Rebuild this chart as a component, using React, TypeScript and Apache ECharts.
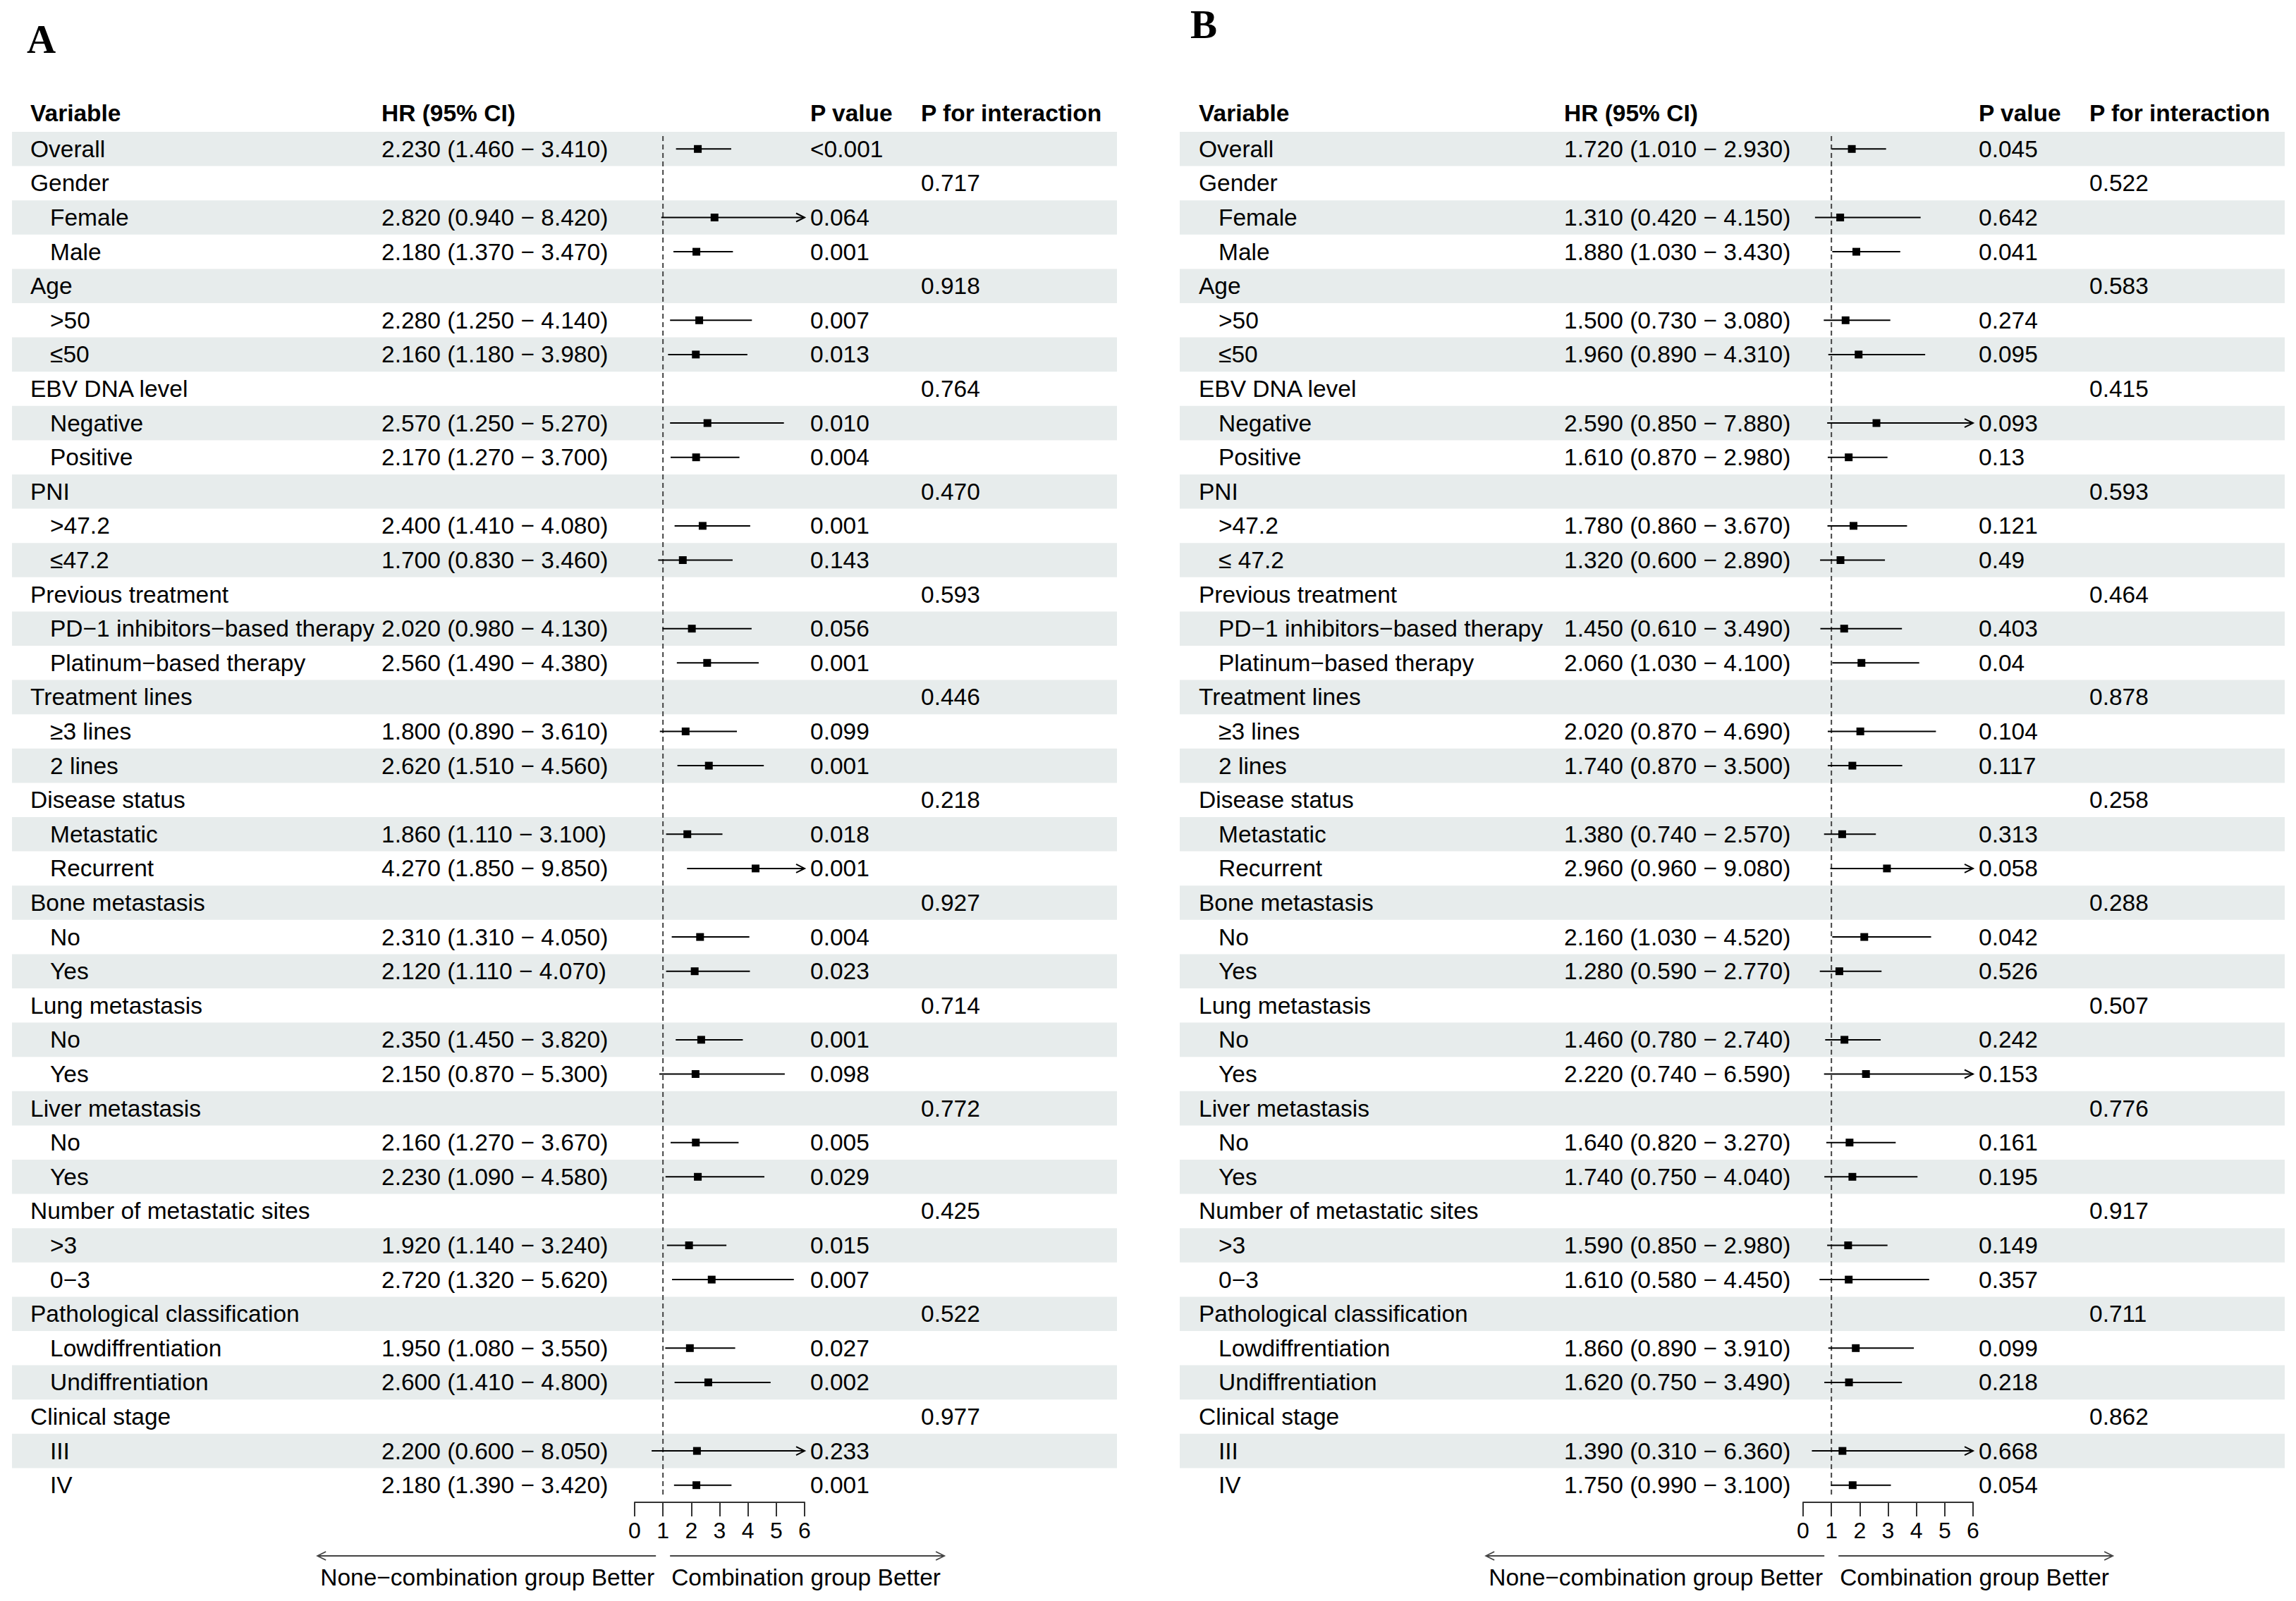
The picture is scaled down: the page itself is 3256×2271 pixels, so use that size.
import React, { useEffect, useRef } from "react";
import * as echarts from "echarts";

// ---------- data ----------
const labelsA = ["Overall","Gender","Female","Male","Age",">50","≤50","EBV DNA level","Negative","Positive","PNI",">47.2","≤47.2","Previous treatment","PD−1 inhibitors−based therapy","Platinum−based therapy","Treatment lines","≥3 lines","2 lines","Disease status","Metastatic","Recurrent","Bone metastasis","No","Yes","Lung metastasis","No","Yes","Liver metastasis","No","Yes","Number of metastatic sites",">3","0−3","Pathological classification","Lowdiffrentiation","Undiffrentiation","Clinical stage","III","IV"];
const labelsB = ["Overall","Gender","Female","Male","Age",">50","≤50","EBV DNA level","Negative","Positive","PNI",">47.2","≤ 47.2","Previous treatment","PD−1 inhibitors−based therapy","Platinum−based therapy","Treatment lines","≥3 lines","2 lines","Disease status","Metastatic","Recurrent","Bone metastasis","No","Yes","Lung metastasis","No","Yes","Liver metastasis","No","Yes","Number of metastatic sites",">3","0−3","Pathological classification","Lowdiffrentiation","Undiffrentiation","Clinical stage","III","IV"];
const groupRows = [1, 4, 7, 10, 13, 16, 19, 22, 25, 28, 31, 34, 37];

const hrA = [2.23,null,2.82,2.18,null,2.28,2.16,null,2.57,2.17,null,2.4,1.7,null,2.02,2.56,null,1.8,2.62,null,1.86,4.27,null,2.31,2.12,null,2.35,2.15,null,2.16,2.23,null,1.92,2.72,null,1.95,2.6,null,2.2,2.18];
const loA = [1.46,null,0.94,1.37,null,1.25,1.18,null,1.25,1.27,null,1.41,0.83,null,0.98,1.49,null,0.89,1.51,null,1.11,1.85,null,1.31,1.11,null,1.45,0.87,null,1.27,1.09,null,1.14,1.32,null,1.08,1.41,null,0.6,1.39];
const hiA = [3.41,null,8.42,3.47,null,4.14,3.98,null,5.27,3.7,null,4.08,3.46,null,4.13,4.38,null,3.61,4.56,null,3.1,9.85,null,4.05,4.07,null,3.82,5.3,null,3.67,4.58,null,3.24,5.62,null,3.55,4.8,null,8.05,3.42];
const pA = ["<0.001","","0.064","0.001","","0.007","0.013","","0.010","0.004","","0.001","0.143","","0.056","0.001","","0.099","0.001","","0.018","0.001","","0.004","0.023","","0.001","0.098","","0.005","0.029","","0.015","0.007","","0.027","0.002","","0.233","0.001"];
const piA = ["","0.717","","","0.918","","","0.764","","","0.470","","","0.593","","","0.446","","","0.218","","","0.927","","","0.714","","","0.772","","","0.425","","","0.522","","","0.977","",""];

const hrB = [1.72,null,1.31,1.88,null,1.5,1.96,null,2.59,1.61,null,1.78,1.32,null,1.45,2.06,null,2.02,1.74,null,1.38,2.96,null,2.16,1.28,null,1.46,2.22,null,1.64,1.74,null,1.59,1.61,null,1.86,1.62,null,1.39,1.75];
const loB = [1.01,null,0.42,1.03,null,0.73,0.89,null,0.85,0.87,null,0.86,0.6,null,0.61,1.03,null,0.87,0.87,null,0.74,0.96,null,1.03,0.59,null,0.78,0.74,null,0.82,0.75,null,0.85,0.58,null,0.89,0.75,null,0.31,0.99];
const hiB = [2.93,null,4.15,3.43,null,3.08,4.31,null,7.88,2.98,null,3.67,2.89,null,3.49,4.1,null,4.69,3.5,null,2.57,9.08,null,4.52,2.77,null,2.74,6.59,null,3.27,4.04,null,2.98,4.45,null,3.91,3.49,null,6.36,3.1];
const pB = ["0.045","","0.642","0.041","","0.274","0.095","","0.093","0.13","","0.121","0.49","","0.403","0.04","","0.104","0.117","","0.313","0.058","","0.042","0.526","","0.242","0.153","","0.161","0.195","","0.149","0.357","","0.099","0.218","","0.668","0.054"];
const piB = ["","0.522","","","0.583","","","0.415","","","0.593","","","0.464","","","0.878","","","0.258","","","0.288","","","0.507","","","0.776","","","0.917","","","0.711","","","0.862","",""];

const headers = ["Variable", "HR (95% CI)", "P value", "P for interaction"];
const xTicks = [0, 1, 2, 3, 4, 5, 6];
const leftLabel = "None−combination group Better";
const rightLabel = "Combination group Better";

// ---------- layout ----------
const W = 3256, H = 2271;
const ROWS = 40;
const TOP = 187;
const ROW_H = 48.6;
const BAND_W = 1567;
const FOREST_W = 241;
const FONT = '"Liberation Sans", Arial, Helvetica, sans-serif';
const FS = 33.5;
const BAND = "#e7ecec";

const panels = [
  { name: "A", labels: labelsA, hr: hrA, lo: loA, hi: hiA, p: pA, pi: piA,
    bandLeft: 17, varX: 43, subX: 71, hrX: 541, pX: 1149, piX: 1306, forestLeft: 900,
    letterX: 38, letterY: 55 },
  { name: "B", labels: labelsB, hr: hrB, lo: loB, hi: hiB, p: pB, pi: piB,
    bandLeft: 1673, varX: 1700, subX: 1728, hrX: 2218, pX: 2806, piX: 2963, forestLeft: 2557,
    letterX: 1688, letterY: 34 },
];

const fmt = (v: number) => v.toFixed(3);

function buildOption() {
  const grid: any[] = [];
  const xAxis: any[] = [];
  const yAxis: any[] = [];
  const series: any[] = [];
  const graphic: any[] = [];
  const rowCats = Array.from({ length: ROWS }, (_, i) => String(i));

  panels.forEach((P, pi) => {
    const gT = pi * 2, gF = pi * 2 + 1;
    grid.push({ left: P.bandLeft, top: TOP, width: BAND_W, height: ROWS * ROW_H });
    grid.push({ left: P.forestLeft, top: TOP, width: FOREST_W, height: ROWS * ROW_H });
    xAxis.push({ gridIndex: gT, type: "value", min: 0, max: BAND_W, show: false });
    xAxis.push({
      gridIndex: gF, type: "value", min: 0, max: 6, interval: 1, position: "bottom",
      axisLine: { show: true, onZero: false, lineStyle: { color: "#333", width: 2 } },
      axisTick: { show: true, length: 20, lineStyle: { color: "#333", width: 2 } },
      axisLabel: { show: true, fontSize: 32, color: "#000", fontFamily: FONT, margin: 24,
        formatter: (v: number) => (xTicks.indexOf(v) >= 0 ? String(v) : "") },
      splitLine: { show: false },
    });
    yAxis.push({ gridIndex: gT, type: "category", data: rowCats, inverse: true, show: false });
    yAxis.push({ gridIndex: gF, type: "category", data: rowCats, inverse: true, show: false });

    // shaded bands
    series.push({
      type: "custom", xAxisIndex: gT, yAxisIndex: gT, silent: true, z: 1,
      encode: { x: 0, y: 1 },
      data: rowCats.map((_, r) => [0, r]).filter((d) => d[1] % 2 === 0),
      renderItem: (params: any, api: any) => {
        const c = api.coord([0, api.value(1)]);
        const h = api.size([0, 1])[1];
        return { type: "rect", shape: { x: params.coordSys.x, y: c[1] - h / 2, width: params.coordSys.width, height: h },
          style: { fill: BAND } };
      },
    });

    // table texts
    series.push({
      type: "custom", xAxisIndex: gT, yAxisIndex: gT, silent: true, z: 3,
      encode: { x: 0, y: 1 },
      data: rowCats.map((_, r) => [0, r]),
      renderItem: (params: any, api: any) => {
        const r = params.dataIndex;
        const y = api.coord([0, r])[1];
        const isTop = r === 0 || groupRows.indexOf(r) >= 0;
        const mk = (x: number, text: string) => ({
          type: "text", x, y,
          style: { text, fill: "#000", fontSize: FS, fontFamily: FONT, align: "left", verticalAlign: "middle" },
        });
        const children: any[] = [mk(isTop ? P.varX : P.subX, P.labels[r])];
        const hr = P.hr[r], lo = P.lo[r], hi = P.hi[r];
        if (hr != null && lo != null && hi != null) {
          children.push(mk(P.hrX, `${fmt(hr)} (${fmt(lo)} − ${fmt(hi)})`));
        }
        if (P.p[r]) children.push(mk(P.pX, P.p[r]));
        if (P.pi[r]) children.push(mk(P.piX, P.pi[r]));
        return { type: "group", children };
      },
    });

    // reference dashed line at HR = 1
    series.push({
      type: "custom", xAxisIndex: gF, yAxisIndex: gF, silent: true, z: 2,
      encode: { x: 0, y: 1 },
      data: [[1, 0]],
      renderItem: (params: any, api: any) => {
        const x = api.coord([api.value(0), 0])[0];
        const cs = params.coordSys;
        return { type: "line", shape: { x1: x, y1: cs.y + 6, x2: x, y2: cs.y + cs.height - 8 },
          style: { stroke: "#444", lineWidth: 2, lineDash: [7, 5] } };
      },
    });

    // CI lines and points
    const fData: any[] = [];
    P.hr.forEach((h, r) => {
      if (h != null) fData.push([P.lo[r], P.hi[r], h, r]);
    });
    series.push({
      type: "custom", xAxisIndex: gF, yAxisIndex: gF, silent: true, z: 4, clip: false,
      encode: { x: [0, 1, 2], y: 3 },
      data: fData,
      renderItem: (params: any, api: any) => {
        const lo = api.value(0), hi = api.value(1), hr = api.value(2), r = api.value(3);
        const y = api.coord([hr, r])[1];
        const x0 = api.coord([Math.max(lo, 0), r])[0];
        const x1 = api.coord([Math.min(hi, 6), r])[0];
        const xc = api.coord([hr, r])[0];
        const children: any[] = [
          { type: "line", shape: { x1: x0, y1: y, x2: x1, y2: y }, style: { stroke: "#000", lineWidth: 2 } },
        ];
        if (hi > 6) {
          children.push({ type: "polyline", shape: { points: [[x1 - 12, y - 6], [x1, y], [x1 - 12, y + 6]] },
            style: { stroke: "#000", lineWidth: 2, fill: null } });
        }
        children.push({ type: "rect", shape: { x: xc - 5.5, y: y - 5.5, width: 11, height: 11 }, style: { fill: "#000" } });
        return { type: "group", children };
      },
    });

    // headers
    const hx = [P.varX, P.hrX, P.pX, P.piX];
    headers.forEach((t, i) => {
      graphic.push({ type: "text", x: hx[i], y: 160, z: 10,
        style: { text: t, fill: "#000", fontSize: FS, fontWeight: "bold", fontFamily: FONT, align: "left", verticalAlign: "middle" } });
    });
    // panel letter
    graphic.push({ type: "text", x: P.letterX, y: P.letterY, z: 10,
      style: { text: P.name, fill: "#000", fontSize: 57, fontWeight: "bold", fontFamily: '"Liberation Serif", "Times New Roman", serif', align: "left", verticalAlign: "middle" } });

    // bottom direction arrows
    const xOne = P.forestLeft + FOREST_W / 6;
    const ay = 2207, ty = 2237;
    const lEnd = xOne - 10, lTip = lEnd - 480;
    const rStart = xOne + 10, rTip = rStart + 389;
    const arrowStyle = { stroke: "#444", lineWidth: 1.8, fill: null };
    graphic.push({ type: "line", z: 10, shape: { x1: lTip, y1: ay, x2: lEnd, y2: ay }, style: arrowStyle });
    graphic.push({ type: "polyline", z: 10, shape: { points: [[lTip + 12, ay - 6], [lTip, ay], [lTip + 12, ay + 6]] }, style: arrowStyle });
    graphic.push({ type: "line", z: 10, shape: { x1: rStart, y1: ay, x2: rTip, y2: ay }, style: arrowStyle });
    graphic.push({ type: "polyline", z: 10, shape: { points: [[rTip - 12, ay - 6], [rTip, ay], [rTip - 12, ay + 6]] }, style: arrowStyle });
    graphic.push({ type: "text", x: xOne - 12, y: ty, z: 10,
      style: { text: leftLabel, fill: "#000", fontSize: 33.5, fontFamily: FONT, align: "right", verticalAlign: "middle" } });
    graphic.push({ type: "text", x: xOne + 12, y: ty, z: 10,
      style: { text: rightLabel, fill: "#000", fontSize: 33.5, fontFamily: FONT, align: "left", verticalAlign: "middle" } });
  });

  return {
    animation: false,
    backgroundColor: "#ffffff",
    textStyle: { fontFamily: FONT },
    grid, xAxis, yAxis, series, graphic,
  };
}

export default function App() {
  const ref = useRef<HTMLDivElement>(null);
  useEffect(() => {
    document.body.style.margin = "0";
    document.body.style.overflow = "hidden";
    if (!ref.current) return;
    const chart = echarts.init(ref.current, null, { renderer: "svg" });
    chart.setOption(buildOption() as any);
    return () => chart.dispose();
  }, []);
  return <div ref={ref} style={{ width: W + "px", height: H + "px" }} />;
}
